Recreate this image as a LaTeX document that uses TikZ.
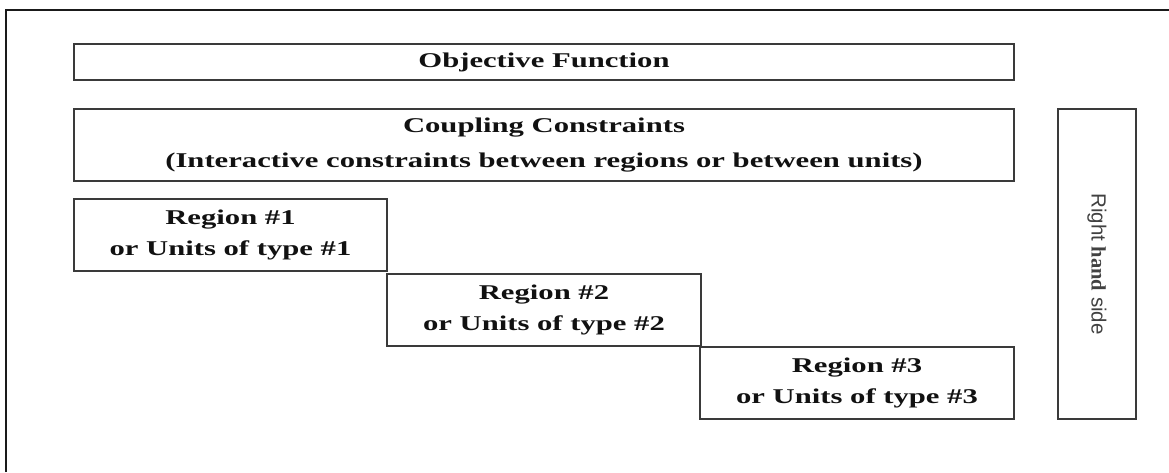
\documentclass[tikz,border=0pt]{standalone}
\usepackage{fontspec}
\setmainfont{Liberation Serif}
% wide bold serif used for the labels inside the blocks
\newfontfamily\wideserif{Liberation Serif}[FakeStretch=1.46]
\newfontfamily\rhsans{Liberation Sans}
\newfontfamily\rhserif{Liberation Serif}
\definecolor{boxline}{HTML}{3A3A3A}
\definecolor{ink}{HTML}{111111}
\definecolor{frameline}{HTML}{1A1A1A}
\tikzset{
  block/.style={draw=boxline, line width=1.4pt, inner sep=0pt, outer sep=0pt,
    align=center, text=ink,
    font=\wideserif\bfseries\fontsize{21}{31}\selectfont},
  sidetext/.style={text=ink!80, inner sep=0pt, rotate=-90,
    font=\rhsans\fontsize{20.5}{24}\selectfont}
}
\begin{document}
\begin{tikzpicture}[x=1pt,y=-1pt]
  \useasboundingbox (0,0) rectangle (1169,472);
  \fill[white] (0,0) rectangle (1169,472);
  % outer frame (only its left and top edges fall inside the page)
  \draw[frameline, line width=2pt] (6,472) -- (6,10) -- (1169,10);

  % objective and coupling rows
  \node[block, minimum width=940pt, minimum height=36pt] (obj) at (544,62)
    {Objective Function};
  \node[block, minimum width=940pt, minimum height=72pt] (coup) at (544,145)
    {Coupling Constraints\\[4pt](Interactive constraints between regions or between units)};

  % staircase of regional blocks
  \node[block, minimum width=313pt, minimum height=72pt] (r1) at (230.5,235)
    {Region \#1\\or Units of type \#1};
  \node[block, minimum width=314pt, minimum height=72pt] (r2) at (544,310)
    {Region \#2\\or Units of type \#2};
  \node[block, minimum width=314pt, minimum height=72pt] (r3) at (857,383)
    {Region \#3\\or Units of type \#3};

  % right hand side column
  \node[block, minimum width=78pt, minimum height=310pt] (rhs) at (1097,264) {};
  \node[sidetext] (rhslabel) at (rhs.center)
    {Right {\rhserif\bfseries hand} side};
\end{tikzpicture}
\end{document}
